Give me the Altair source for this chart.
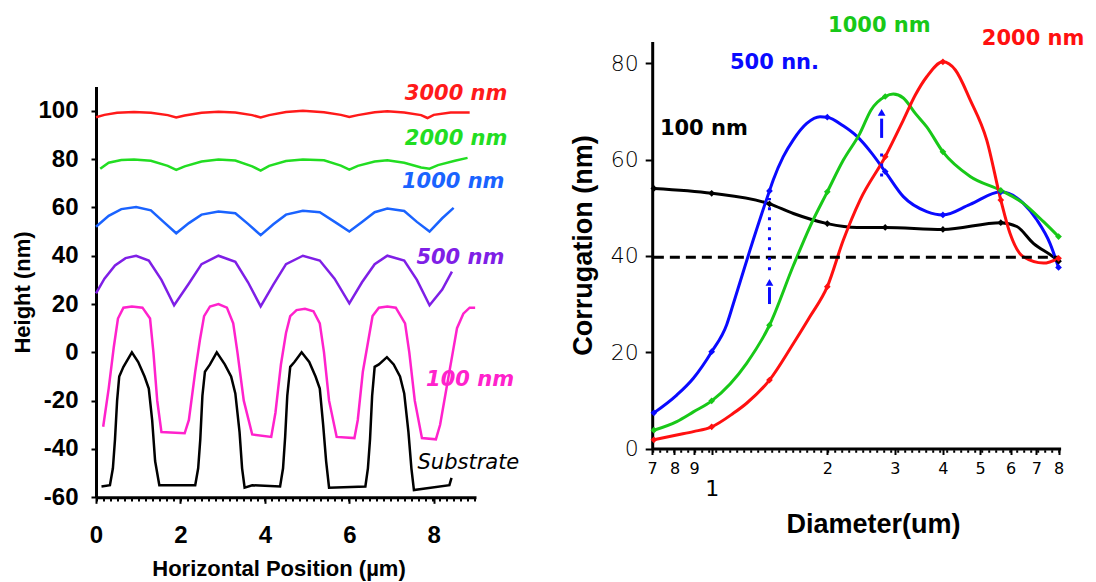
import altair as alt
import pandas as pd

# ---------------- Left panel: height profiles ----------------
L_SERIES = ["3000 nm", "2000 nm", "1000 nm", "500 nm", "100 nm", "Substrate"]
L_COLORS = ["#ff1a1a", "#22dd22", "#1a63ff", "#7f1fe6", "#ff22cc", "#000000"]

X3000 = [0.0, 0.2, 0.5, 0.9, 1.3, 1.7, 1.9, 2.1, 2.5, 2.9, 3.3, 3.7, 3.9, 4.1, 4.5, 4.9, 5.4, 5.8, 6.0, 6.2, 6.6, 6.9, 7.3, 7.7, 7.85, 8.0, 8.4, 8.85]
Y3000 = [97.3, 98.3, 99.2, 99.5, 99.2, 98.2, 97.2, 98.0, 99.2, 99.6, 99.3, 98.2, 97.2, 98.2, 99.5, 100.0, 99.4, 98.3, 97.4, 98.2, 99.4, 99.8, 99.3, 98.2, 97.0, 98.3, 99.3, 99.3]

X2000 = [0.1, 0.3, 0.6, 0.9, 1.3, 1.7, 1.9, 2.1, 2.5, 2.9, 3.3, 3.7, 3.9, 4.1, 4.5, 4.9, 5.4, 5.8, 6.0, 6.2, 6.6, 6.9, 7.3, 7.7, 7.9, 8.1, 8.5, 8.8]
Y2000 = [76.0, 78.5, 79.6, 79.8, 79.3, 77.2, 75.5, 77.0, 79.0, 79.8, 79.4, 77.0, 75.2, 77.2, 79.2, 79.8, 79.5, 77.3, 75.6, 77.2, 79.0, 79.5, 78.5, 76.5, 76.0, 77.5, 79.3, 80.5]

X1000 = [0.0, 0.3, 0.6, 0.95, 1.3, 1.6, 1.9, 2.2, 2.5, 2.9, 3.3, 3.6, 3.9, 4.2, 4.5, 4.9, 5.3, 5.7, 6.0, 6.3, 6.6, 6.9, 7.3, 7.6, 7.9, 8.2, 8.47]
Y1000 = [52.0, 56.5, 59.3, 60.2, 58.8, 54.0, 49.3, 53.5, 57.0, 58.3, 57.6, 53.2, 48.5, 53.0, 57.0, 58.6, 58.0, 53.5, 50.0, 54.0, 58.0, 59.5, 58.5, 54.0, 50.0, 55.5, 59.8]

X500 = [0.0, 0.2, 0.45, 0.7, 0.95, 1.25, 1.55, 1.85, 2.2, 2.5, 2.9, 3.3, 3.6, 3.9, 4.2, 4.5, 4.9, 5.3, 5.65, 6.0, 6.3, 6.6, 6.9, 7.3, 7.6, 7.9, 8.2, 8.43]
Y500 = [24.4, 30.5, 36.0, 39.0, 40.0, 38.0, 30.0, 19.5, 28.5, 36.5, 40.0, 37.5, 29.0, 19.0, 28.0, 36.5, 40.0, 38.0, 30.5, 20.3, 29.0, 36.5, 40.0, 38.0, 30.0, 19.5, 26.0, 33.4]

X100 = [0.17, 0.3, 0.42, 0.52, 0.65, 0.85, 1.1, 1.28, 1.36, 1.45, 1.55, 2.1,
        2.2, 2.35, 2.46, 2.56, 2.7, 2.9, 3.1, 3.25, 3.35, 3.5, 3.7, 4.15,
        4.25, 4.38, 4.5, 4.6, 4.75, 4.95, 5.15, 5.3, 5.4, 5.52, 5.7, 6.12,
        6.2, 6.32, 6.45, 6.55, 6.7, 6.9, 7.1, 7.32, 7.42, 7.55, 7.72, 8.05,
        8.15, 8.3, 8.45, 8.55, 8.7, 8.85, 8.98]
Y100 = [-30.8, -15, 2, 14, 18.5, 19, 18.5, 14, 0, -20, -33, -33.5,
        -28, -8, 5, 15, 19, 20, 18.5, 12, 0, -20, -34, -35,
        -25, -5, 8, 15, 17.5, 18, 17, 12, 0, -20, -35, -35.5,
        -28, -8, 5, 15, 18.5, 19, 18.5, 12, 0, -20, -35.5, -36,
        -30, -15, 0, 10, 16, 18.5, 18.5]

XSUB = [0.13, 0.33, 0.4, 0.45, 0.5, 0.55, 0.65, 0.85, 1.0, 1.15, 1.25, 1.33, 1.4, 1.5,
        2.35, 2.42, 2.47, 2.52, 2.58, 2.7, 2.86, 3.05, 3.2, 3.3, 3.4, 3.46, 3.52, 3.7,
        4.36, 4.43, 4.48, 4.53, 4.6, 4.7, 4.87, 5.05, 5.2, 5.3, 5.38, 5.45, 5.52,
        6.38, 6.44, 6.49, 6.54, 6.6, 6.7, 6.89, 7.05, 7.2, 7.3, 7.4, 7.47, 7.53,
        8.37, 8.42]
YSUB = [-55.5, -55, -48, -36, -20, -10, -6, 0, -4, -10, -15, -28, -45, -55,
        -55, -48, -36, -18, -8, -5, 0, -5, -10, -17, -33, -48, -56, -55,
        -55.5, -48, -35, -18, -6, -4, 0, -4, -10, -15, -30, -45, -56,
        -55.5, -48, -36, -18, -6, -5, -2, -5, -10, -17, -33, -48, -57,
        -55, -52]

L_LABEL_TEXT = ["3000 nm", "2000 nm", "1000 nm", "500 nm", "100 nm"]
L_LABEL_X = [8.53, 8.53, 8.46, 8.63, 8.86]
L_LABEL_Y = [107.0, 88.3, 70.4, 38.9, -11.5]
SUB_LABEL_X = [8.82]
SUB_LABEL_Y = [-46.0]

# ---------------- Right panel: corrugation vs diameter ----------------
R_SERIES = ["100 nm", "500 nm", "1000 nm", "2000 nm"]
R_COLORS = ["#000000", "#0a0aff", "#18c818", "#ff1010"]
MARKER_D = [0.707, 1.0, 1.414, 2.0, 2.83, 4.0, 5.66, 8.0]

D100 = [0.707, 1.0, 1.414, 1.632, 2.0, 2.39, 2.83, 4.0, 5.66, 6.23, 6.88, 7.75, 8.0]
C100 = [54.0, 53.0, 50.8, 48.8, 46.7, 45.9, 45.9, 45.5, 46.9, 46.1, 42.6, 39.8, 38.9]

D500 = [0.707, 0.811, 0.896, 1.0, 1.094, 1.138, 1.258, 1.414, 1.447, 1.536, 1.631, 1.768, 1.915, 2.0, 2.2, 2.39, 2.6, 2.83, 3.155, 3.63, 4.0, 4.71, 5.66, 6.48, 7.02, 7.6, 8.0]
C500 = [7.4, 11.1, 14.6, 20.1, 25.7, 30.0, 41.2, 53.5, 55.8, 60.6, 64.1, 67.5, 68.9, 68.8, 67.0, 64.8, 61.5, 57.5, 52.3, 49.2, 48.5, 50.7, 53.3, 50.9, 47.5, 42.6, 37.6]

D1000 = [0.707, 0.811, 0.896, 1.0, 1.233, 1.414, 1.632, 1.803, 2.0, 2.202, 2.434, 2.6, 2.83, 2.97, 3.155, 3.39, 3.63, 4.0, 4.71, 5.66, 6.48, 7.31, 8.0]
C1000 = [3.8, 5.6, 7.6, 9.9, 17.7, 25.6, 38.0, 46.1, 53.3, 59.9, 65.5, 70.3, 73.1, 73.6, 72.8, 69.6, 66.8, 61.6, 56.5, 53.6, 50.9, 47.1, 44.0]

D2000 = [0.707, 0.811, 0.896, 1.0, 1.138, 1.233, 1.414, 1.632, 1.803, 2.0, 2.202, 2.434, 2.83, 3.155, 3.39, 3.63, 4.0, 4.31, 4.71, 5.2, 5.66, 5.98, 6.48, 7.31, 8.0]
C2000 = [1.8, 2.8, 3.5, 4.5, 7.3, 9.4, 14.2, 21.8, 27.4, 33.6, 43.3, 51.6, 60.6, 68.2, 73.4, 77.2, 80.3, 78.6, 72.4, 64.1, 51.6, 44.7, 39.8, 38.5, 39.5]

R_LABEL_TEXT = ["500 nn.", "1000 nm", "2000 nm", "100 nm"]
R_LABEL_SERIES = ["500 nm", "1000 nm", "2000 nm", "100 nm"]
R_LABEL_D = [1.116, 2.009, 5.05, 0.733]
R_LABEL_C = [80.1, 87.7, 85.0, 66.3]

THRESHOLD = [39.7]
ARROW_D = [1.414, 2.77]
DOT_LO = [37.0, 56.5]
DOT_HI = [52.0, 62.0]
SHAFT_LO = [30.0, 64.5]
SHAFT_HI = [33.5, 68.5]
HEAD_C = [34.5, 69.8]

# ---------------- tables ----------------
left_rows = []
for name, xs, ys in zip(L_SERIES, [X3000, X2000, X1000, X500, X100, XSUB],
                        [Y3000, Y2000, Y1000, Y500, Y100, YSUB]):
    for x, y in zip(xs, ys):
        left_rows.append({"series": name, "x": x, "y": y})
df_left = pd.DataFrame(left_rows)
df_llab = pd.DataFrame({"text": L_LABEL_TEXT, "series": L_SERIES[:5], "x": L_LABEL_X, "y": L_LABEL_Y})
df_sub = pd.DataFrame({"text": ["Substrate"], "x": SUB_LABEL_X, "y": SUB_LABEL_Y})

right_rows = []
for name, ds, cs in zip(R_SERIES, [D100, D500, D1000, D2000], [C100, C500, C1000, C2000]):
    for d, c in zip(ds, cs):
        right_rows.append({"series": name, "d": d, "c": c, "marker": int(d in MARKER_D)})
df_right = pd.DataFrame(right_rows)
df_rlab = pd.DataFrame({"text": R_LABEL_TEXT, "series": R_LABEL_SERIES, "d": R_LABEL_D, "c": R_LABEL_C})
df_arrow = pd.DataFrame({"d": ARROW_D, "lo": DOT_LO, "hi": DOT_HI, "slo": SHAFT_LO, "shi": SHAFT_HI, "head": HEAD_C})
df_thr = pd.DataFrame({"c": THRESHOLD, "d0": [0.707], "d1": [8.0]})
df_lbase = pd.DataFrame({"x0": [0.0], "x1": [9.0], "y": [-60.0]})
df_rbase = pd.DataFrame({"d0": [0.7], "d1": [8.1], "c": [0.0]})

W, H = 1080, 574
BOLD = "Liberation Sans"

# ---------------- scales ----------------
LX = alt.Scale(domain=[0, 9], range=[88, 468], nice=False, zero=False)
LY = alt.Scale(domain=[-60, 110], range=[489.3, 78.6], nice=False, zero=False)
RX = alt.Scale(type="log", domain=[0.7, 8.1], range=[644.2, 1052.6], nice=False)
RY = alt.Scale(domain=[0, 84.5], range=[440.5, 33.6], nice=False, zero=False)
LC = alt.Scale(domain=L_SERIES, range=L_COLORS)
RC = alt.Scale(domain=R_SERIES, range=R_COLORS)

LX_AXIS = alt.Axis(orient="bottom", offset=489.3 - H, values=[0, 2, 4, 6, 8], grid=False,
                   domainWidth=3, domainColor="black", tickColor="black", tickWidth=2, tickSize=6,
                   labelFont=BOLD, labelFontSize=24, labelFontWeight="bold", labelColor="black",
                   labelPadding=20, labelFlush=False,
                   title="Horizontal Position (µm)", titleFont=BOLD, titleFontSize=22,
                   titleFontWeight="bold", titleColor="black", titleX=270.5, titleY=78,
                   titleBaseline="alphabetic")
LY_AXIS = alt.Axis(orient="left", offset=-88, values=[-60, -40, -20, 0, 20, 40, 60, 80, 100], grid=False,
                   domainWidth=3, domainColor="black", tickColor="black", tickWidth=2, tickSize=5,
                   labelExpr="'' + datum.value",
                   labelFont=BOLD, labelFontSize=24, labelFontWeight="bold", labelColor="black",
                   labelPadding=13, labelFlush=False,
                   title="Height (nm)", titleFont=BOLD, titleFontSize=22, titleFontWeight="bold",
                   titleColor="black", titleX=-74, titleY=284, titleAngle=270, titleBaseline="middle")

RX_AXIS = alt.Axis(orient="bottom", offset=440.5 - H, values=[0.7, 0.8, 0.9, 1, 2, 3, 4, 5, 6, 7, 8],
                   grid=False, domainWidth=3, domainColor="black", tickColor="black", tickWidth=2,
                   tickSize=6, labelOverlap=False, labelFlush=False,
                   labelExpr="datum.value < 0.95 ? '' + round(datum.value*10) : '' + round(datum.value)",
                   labelFont="DejaVu Sans", labelColor="black",
                   labelFontSize={"condition": {"test": "datum.value == 1", "value": 22}, "value": 16},
                   labelPadding={"condition": {"test": "datum.value == 1", "value": 24}, "value": 6},
                   title="Diameter(um)", titleFont=BOLD, titleFontSize=27, titleFontWeight="bold",
                   titleColor="black", titleX=865, titleY=84, titleBaseline="alphabetic")
RY_AXIS = alt.Axis(orient="left", offset=-644.2, values=[0, 20, 40, 60, 80], grid=False,
                   domainWidth=3, domainColor="black", tickColor="black", tickWidth=2, tickSize=7,
                   labelFont="DejaVu Sans", labelFontSize=22, labelFontWeight=200, labelColor="black",
                   labelPadding=7, labelFlush=False,
                   title="Corrugation (nm)", titleFont=BOLD, titleFontSize=27, titleFontWeight="bold",
                   titleColor="black", titleX=-68.7, titleY=237, titleAngle=270, titleBaseline="middle")


def lx(f):
    return alt.X(f, type="quantitative", scale=LX, axis=LX_AXIS)


def ly(f):
    return alt.Y(f, type="quantitative", scale=LY, axis=LY_AXIS)


def rx(f):
    return alt.X(f, type="quantitative", scale=RX, axis=RX_AXIS)


def ry(f):
    return alt.Y(f, type="quantitative", scale=RY, axis=RY_AXIS)


# ---------------- left layers ----------------
left_lines = alt.Chart(df_left).mark_line(strokeWidth=2.5).encode(
    x=lx("x"), y=ly("y"),
    color=alt.Color("series:N", scale=LC, legend=None),
    detail="series:N",
)
left_labels = alt.Chart(df_llab).mark_text(font="DejaVu Sans", fontSize=21, fontWeight="bold",
                                           fontStyle="italic", align="center", baseline="middle").encode(
    x=lx("x"), y=ly("y"),
    color=alt.Color("series:N", scale=LC, legend=None), text="text:N")
sub_label = alt.Chart(df_sub).mark_text(font="DejaVu Sans", fontSize=21, fontStyle="italic",
                                        align="center", baseline="middle", color="black").encode(
    x=lx("x"), y=ly("y"), text="text:N")
left_dots = alt.Chart(df_lbase).mark_rule(strokeDash=[2, 5], strokeWidth=2.5, color="black", yOffset=3).encode(
    x=lx("x0"), x2="x1:Q", y=ly("y"))
left = alt.layer(left_lines, left_labels, sub_label, left_dots)

# ---------------- right layers ----------------
right_lines = alt.Chart(df_right).mark_line(strokeWidth=3, interpolate="monotone").encode(
    x=rx("d"), y=ry("c"),
    color=alt.Color("series:N", scale=RC, legend=None),
    detail="series:N",
)
right_markers = alt.Chart(df_right).transform_filter("datum.marker == 1").mark_point(
    filled=True, size=45, shape="diamond", opacity=1).encode(
    x=rx("d"), y=ry("c"),
    color=alt.Color("series:N", scale=RC, legend=None))
threshold = alt.Chart(df_thr).mark_rule(strokeDash=[10, 6], strokeWidth=3, color="black").encode(
    x=rx("d0"), x2="d1:Q", y=ry("c"))
arrow_dots = alt.Chart(df_arrow).mark_rule(strokeDash=[3, 7], strokeWidth=3, color="#0a0aff").encode(
    x=rx("d"), y=ry("lo"), y2="hi:Q")
arrow_shaft = alt.Chart(df_arrow).mark_rule(strokeWidth=3, color="#0a0aff").encode(
    x=rx("d"), y=ry("slo"), y2="shi:Q")
arrow_head = alt.Chart(df_arrow).mark_point(shape="triangle-up", filled=True, size=60,
                                            color="#0a0aff", opacity=1).encode(
    x=rx("d"), y=ry("head"))
right_labels = alt.Chart(df_rlab).mark_text(font="DejaVu Sans", fontSize=21, fontWeight="bold",
                                            align="left", baseline="middle").encode(
    x=rx("d"), y=ry("c"),
    color=alt.Color("series:N", scale=RC, legend=None), text="text:N")
right_dots = alt.Chart(df_rbase).mark_rule(strokeDash=[2, 5], strokeWidth=2.5, color="black", yOffset=3).encode(
    x=rx("d0"), x2="d1:Q", y=ry("c"))
right = alt.layer(right_lines, threshold, arrow_dots, arrow_shaft, arrow_head, right_markers,
                  right_labels, right_dots)

chart = alt.layer(left, right).resolve_scale(
    x="independent", y="independent", color="independent"
).resolve_axis(x="independent", y="independent").properties(
    width=W, height=H, padding=0,
    autosize=alt.AutoSizeParams(type="none"),
    background="white",
).configure_view(stroke=None)

chart.save("out.html", embed_options={"renderer": "svg", "actions": False})
